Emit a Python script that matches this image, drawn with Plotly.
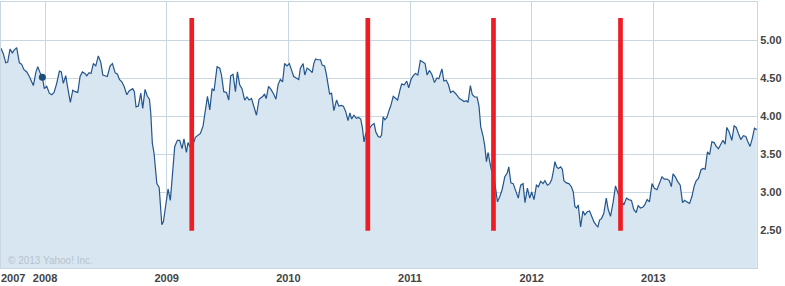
import plotly.graph_objects as go

# ---- data (decimal year, yield %) ----
years = [
    2007.638, 2007.657, 2007.677, 2007.693, 2007.712, 2007.731, 2007.748, 2007.767, 2007.789, 2007.808,
    2007.827, 2007.850, 2007.871, 2007.896, 2007.904, 2007.924, 2007.940, 2007.959, 2007.978, 2007.994,
    2008.014, 2008.035, 2008.055, 2008.074, 2008.096, 2008.118, 2008.134, 2008.150, 2008.170, 2008.192,
    2008.208, 2008.228, 2008.247, 2008.269, 2008.288, 2008.307, 2008.327, 2008.343, 2008.362, 2008.378,
    2008.397, 2008.417, 2008.438, 2008.458, 2008.475, 2008.493, 2008.512, 2008.535, 2008.554, 2008.576,
    2008.595, 2008.611, 2008.631, 2008.650, 2008.672, 2008.691, 2008.721, 2008.734, 2008.748, 2008.767,
    2008.787, 2008.803, 2008.822, 2008.841, 2008.858, 2008.869, 2008.882, 2008.896, 2008.919, 2008.938,
    2008.960, 2008.973, 2008.989, 2009.011, 2009.030, 2009.047, 2009.066, 2009.088, 2009.107, 2009.126,
    2009.142, 2009.162, 2009.175, 2009.189, 2009.216, 2009.236, 2009.257, 2009.277, 2009.299, 2009.318,
    2009.335, 2009.354, 2009.373, 2009.389, 2009.414, 2009.436, 2009.450, 2009.469, 2009.491, 2009.510,
    2009.526, 2009.545, 2009.565, 2009.581, 2009.600, 2009.619, 2009.641, 2009.660, 2009.677, 2009.697,
    2009.715, 2009.738, 2009.759, 2009.791, 2009.804, 2009.818, 2009.837, 2009.857, 2009.879, 2009.898,
    2009.915, 2009.934, 2009.953, 2009.969, 2009.989, 2010.008, 2010.025, 2010.044, 2010.064, 2010.085,
    2010.099, 2010.121, 2010.135, 2010.154, 2010.173, 2010.196, 2010.209, 2010.223, 2010.242, 2010.264,
    2010.278, 2010.297, 2010.311, 2010.328, 2010.339, 2010.355, 2010.374, 2010.396, 2010.415, 2010.435,
    2010.452, 2010.471, 2010.490, 2010.506, 2010.520, 2010.539, 2010.559, 2010.576, 2010.595, 2010.609,
    2010.622, 2010.636, 2010.669, 2010.686, 2010.705, 2010.719, 2010.738, 2010.754, 2010.766, 2010.779,
    2010.793, 2010.810, 2010.829, 2010.843, 2010.862, 2010.879, 2010.898, 2010.917, 2010.931, 2010.953,
    2010.973, 2010.989, 2011.008, 2011.027, 2011.044, 2011.064, 2011.085, 2011.105, 2011.124, 2011.140,
    2011.159, 2011.179, 2011.201, 2011.221, 2011.237, 2011.262, 2011.278, 2011.297, 2011.316, 2011.333,
    2011.353, 2011.372, 2011.388, 2011.407, 2011.427, 2011.444, 2011.463, 2011.477, 2011.496, 2011.512,
    2011.531, 2011.551, 2011.567, 2011.581, 2011.601, 2011.614, 2011.628, 2011.642, 2011.655, 2011.669,
    2011.690, 2011.719, 2011.738, 2011.757, 2011.779, 2011.799, 2011.812, 2011.829, 2011.848, 2011.867,
    2011.890, 2011.903, 2011.910, 2011.929, 2011.945, 2011.965, 2011.984, 2012.000, 2012.019, 2012.039,
    2012.055, 2012.074, 2012.093, 2012.109, 2012.129, 2012.148, 2012.164, 2012.178, 2012.191, 2012.205,
    2012.219, 2012.238, 2012.252, 2012.265, 2012.285, 2012.306, 2012.326, 2012.342, 2012.355, 2012.369,
    2012.383, 2012.402, 2012.421, 2012.437, 2012.457, 2012.476, 2012.492, 2012.511, 2012.531, 2012.544,
    2012.558, 2012.574, 2012.593, 2012.613, 2012.629, 2012.648, 2012.670, 2012.689, 2012.708, 2012.730,
    2012.757, 2012.779, 2012.798, 2012.820, 2012.839, 2012.859, 2012.875, 2012.894, 2012.913, 2012.929,
    2012.949, 2012.968, 2012.989, 2013.008, 2013.030, 2013.049, 2013.071, 2013.090, 2013.112, 2013.131,
    2013.148, 2013.162, 2013.180, 2013.199, 2013.221, 2013.240, 2013.257, 2013.276, 2013.298, 2013.317,
    2013.336, 2013.353, 2013.371, 2013.391, 2013.408, 2013.426, 2013.445, 2013.462, 2013.481, 2013.500,
    2013.517, 2013.535, 2013.555, 2013.572, 2013.590, 2013.604, 2013.623, 2013.645, 2013.664, 2013.681,
    2013.699, 2013.719, 2013.740, 2013.760, 2013.777, 2013.795, 2013.814, 2013.831, 2013.850,
]
rates = [
    4.89, 4.82, 4.70, 4.71, 4.88, 4.83, 4.87, 4.90, 4.70, 4.68,
    4.61, 4.58, 4.52, 4.42, 4.40, 4.57, 4.65, 4.57, 4.51, 4.36,
    4.39, 4.30, 4.28, 4.31, 4.43, 4.59, 4.58, 4.43, 4.53, 4.32,
    4.18, 4.34, 4.32, 4.31, 4.52, 4.58, 4.56, 4.53, 4.57, 4.56,
    4.69, 4.66, 4.79, 4.71, 4.54, 4.53, 4.52, 4.66, 4.69, 4.57,
    4.55, 4.48, 4.45, 4.39, 4.28, 4.33, 4.36, 4.32, 4.12, 4.13,
    4.30, 4.10, 4.35, 4.26, 4.22, 4.04, 3.64, 3.51, 3.11, 3.06,
    2.57, 2.61, 2.79, 3.04, 2.89, 3.29, 3.60, 3.68, 3.68, 3.57,
    3.70, 3.52, 3.65, 3.60, 3.62, 3.72, 3.75, 3.77, 3.87, 4.09,
    4.26, 4.08, 4.36, 4.33, 4.65, 4.63, 4.54, 4.32, 4.31, 4.21,
    4.53, 4.55, 4.32, 4.58, 4.41, 4.36, 4.21, 4.25, 4.21, 4.23,
    4.13, 4.01, 4.22, 4.26, 4.29, 4.23, 4.39, 4.35, 4.29, 4.22,
    4.41, 4.48, 4.45, 4.69, 4.66, 4.69, 4.61, 4.52, 4.50, 4.48,
    4.63, 4.69, 4.54, 4.63, 4.61, 4.57, 4.69, 4.75, 4.74, 4.74,
    4.67, 4.66, 4.56, 4.39, 4.29, 4.30, 4.07, 4.21, 4.13, 4.14,
    4.13, 4.06, 3.94, 4.04, 3.96, 4.01, 3.97, 3.98, 3.96, 3.84,
    3.66, 3.77, 3.84, 3.88, 3.90, 3.79, 3.73, 3.72, 3.75, 3.99,
    3.95, 3.98, 4.08, 4.14, 4.26, 4.24, 4.21, 4.34, 4.42, 4.41,
    4.46, 4.37, 4.48, 4.53, 4.56, 4.54, 4.73, 4.71, 4.69, 4.54,
    4.60, 4.55, 4.44, 4.50, 4.49, 4.62, 4.46, 4.47, 4.41, 4.31,
    4.33, 4.30, 4.26, 4.23, 4.21, 4.19, 4.20, 4.18, 4.40, 4.28,
    4.25, 4.25, 4.13, 3.86, 3.73, 3.61, 3.40, 3.52, 3.40, 3.29,
    3.20, 2.87, 2.94, 3.03, 3.20, 3.25, 3.33, 3.12, 3.11, 3.03,
    2.92, 3.04, 3.09, 3.11, 2.86, 3.05, 2.92, 3.00, 2.90, 3.09,
    3.07, 3.14, 3.11, 3.15, 3.09, 3.11, 3.16, 3.27, 3.40, 3.33,
    3.31, 3.33, 3.30, 3.15, 3.12, 3.11, 3.07, 3.00, 2.81, 2.79,
    2.83, 2.54, 2.75, 2.70, 2.74, 2.75, 2.68, 2.61, 2.56, 2.54,
    2.63, 2.65, 2.72, 2.92, 2.77, 2.68, 2.87, 3.08, 2.99, 2.90,
    2.83, 2.92, 2.90, 2.89, 2.77, 2.73, 2.82, 2.79, 2.80, 2.83,
    2.90, 2.87, 3.11, 3.05, 3.03, 3.11, 3.20, 3.17, 3.17, 3.15,
    3.07, 3.24, 3.20, 3.14, 3.09, 2.86, 2.89, 2.87, 2.85, 2.94,
    3.08, 3.15, 3.18, 3.29, 3.31, 3.30, 3.53, 3.49, 3.66, 3.65,
    3.60, 3.57, 3.63, 3.68, 3.63, 3.85, 3.79, 3.68, 3.87, 3.85,
    3.77, 3.69, 3.74, 3.73, 3.66, 3.60, 3.71, 3.84, 3.82,
]

event_years = [2009.206, 2010.653, 2011.686, 2012.730]
event_low = 2.49
event_high = 5.29

marker_year = 2007.978
marker_rate = 4.51

x_ticks = [2008, 2009, 2010, 2011, 2012, 2013]
x_tick_labels = ["2008", "2009", "2010", "2011", "2012", "2013"]
first_year_label = "2007"
first_year_pos = 2007.74
y_ticks = [2.5, 3.0, 3.5, 4.0, 4.5, 5.0]
y_tick_labels = ["2.50", "3.00", "3.50", "4.00", "4.50", "5.00"]

x_range = [2007.638, 2013.852]
y_range = [2.0, 5.5]

GRID = "#c9d7e1"
LABEL_FONT = dict(family="Liberation Sans, Arial, sans-serif", size=11, color="#444444", weight="bold")

fig = go.Figure()

fig.add_trace(go.Scatter(
    x=years, y=rates, mode="lines",
    line=dict(color="#24558c", width=1.2),
    fill="tozeroy", fillcolor="#d7e6f1",
    hoverinfo="skip", showlegend=False,
))

ex, ey = [], []
for e in event_years:
    ex += [e, e, None]
    ey += [event_low, event_high, None]
fig.add_trace(go.Scatter(
    x=ex, y=ey, mode="lines",
    line=dict(color="#ee1d25", width=4.7),
    hoverinfo="skip", showlegend=False,
))

fig.add_trace(go.Scatter(
    x=[marker_year], y=[marker_rate], mode="markers",
    marker=dict(color="#1d4c7e", size=7),
    hoverinfo="skip", showlegend=False,
))

fig.add_annotation(
    x=first_year_pos, y=0, xref="x", yref="paper",
    text=first_year_label, showarrow=False,
    xanchor="center", yanchor="top", yshift=-2,
    font=LABEL_FONT,
)
fig.add_annotation(
    x=0.006, y=0.03, xref="paper", yref="paper",
    text="© 2013 Yahoo! Inc.", showarrow=False,
    xanchor="left", yanchor="middle",
    font=dict(family="Liberation Sans, Arial, sans-serif", size=10, color="#b7c3cc"),
)

fig.update_layout(
    width=785, height=286,
    margin=dict(l=1, r=28, t=2, b=18),
    paper_bgcolor="white", plot_bgcolor="white",
    showlegend=False,
    xaxis=dict(
        range=x_range, tickmode="array", tickvals=x_ticks, ticktext=x_tick_labels,
        showgrid=True, gridcolor=GRID, gridwidth=1,
        showline=True, linecolor=GRID, linewidth=1, mirror=True,
        ticks="", tickfont=LABEL_FONT, zeroline=False, fixedrange=True,
    ),
    yaxis=dict(
        range=y_range, side="right", tickmode="array", tickvals=y_ticks, ticktext=y_tick_labels,
        showgrid=True, gridcolor=GRID, gridwidth=1,
        showline=True, linecolor=GRID, linewidth=1, mirror=True,
        ticks="", tickfont=LABEL_FONT, zeroline=False, fixedrange=True,
    ),
)

fig.write_html("out.html")
